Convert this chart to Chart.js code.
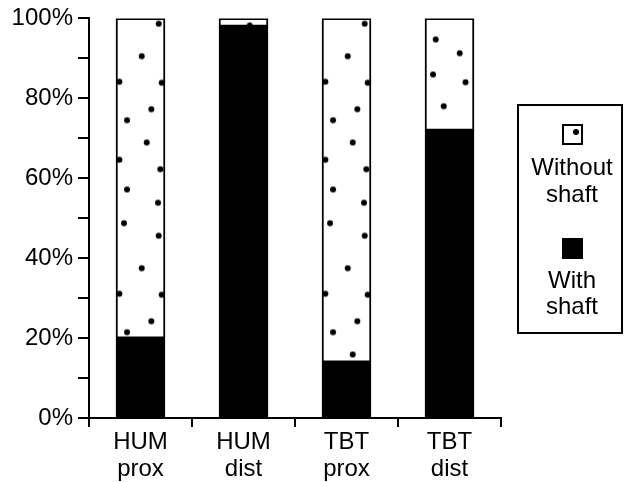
<!DOCTYPE html>
<html>
<head>
<meta charset="utf-8">
<script src="https://cdn.jsdelivr.net/npm/chart.js@4.4.0/dist/chart.umd.min.js"></script>
<style>
  html, body { margin: 0; padding: 0; background: #fff; }
  #wrap { width: 624px; height: 482px; }
</style>
</head>
<body>
<div id="wrap"><canvas id="chart" width="624" height="482"></canvas></div>
<script>
const categories = [['HUM', 'prox'], ['HUM', 'dist'], ['TBT', 'prox'], ['TBT', 'dist']];
const withShaft = [20, 98, 14, 72];
const withoutShaft = [80, 2, 86, 28];
const seriesNames = ['With shaft', 'Without shaft'];
const yLabels = [0, 20, 40, 60, 80, 100];

// dot texture for the white part of each bar, offsets from the bar's top-left
const TILE_W = 60, TILE_H = 212, DOT_R = 3;
const proxDots = [[42.7,5.3],[25.7,37.7],[3.3,63.3],[45.7,64.3],[35.3,90.7],[11,101.7],
  [30.7,124],[3.3,141.3],[44.3,150.7],[11,171],[42,184.3],[8,204.7]];
const barDots = [proxDots, [[30.7,7]], proxDots, [[10.7,21],[34.7,34.7],[8,56],[40.5,63.7],[18.7,87.7]]];

const canvas = document.getElementById('chart');
const ctx = canvas.getContext('2d');

function makePattern(dots) {
  const c = document.createElement('canvas');
  c.width = TILE_W; c.height = TILE_H;
  const g = c.getContext('2d');
  g.fillStyle = '#fff';
  g.fillRect(0, 0, TILE_W, TILE_H);
  g.fillStyle = '#000';
  dots.forEach(([x, y]) => {
    g.beginPath();
    g.arc(x, y, DOT_R, 0, Math.PI * 2);
    g.fill();
  });
  return ctx.createPattern(c, 'repeat');
}
const patterns = barDots.map(makePattern);

// move each pattern so it starts at its own bar
const alignPatterns = {
  id: 'alignPatterns',
  beforeDatasetsDraw(chart) {
    const top = chart.scales.y.getPixelForValue(100);
    chart.getDatasetMeta(1).data.forEach((bar, i) => {
      const left = Math.round(bar.x - bar.width / 2);
      patterns[i].setTransform(new DOMMatrix([1, 0, 0, 1, left, top]));
    });
  }
};

const boxLegend = {
  id: 'boxLegend',
  afterDraw(chart) {
    const g = chart.ctx;
    g.save();
    g.strokeStyle = '#000';
    g.lineWidth = 2;
    g.strokeRect(518, 105, 104, 228);
    const cx = 572;
    g.font = '24px "Liberation Sans", Arial, sans-serif';
    g.fillStyle = '#000';
    g.textAlign = 'center';
    g.textBaseline = 'alphabetic';
    // without shaft
    g.strokeRect(563, 125, 19, 19);
    g.beginPath();
    g.arc(576, 132, DOT_R, 0, Math.PI * 2);
    g.fill();
    ['Without', 'shaft'].forEach((t, k) => g.fillText(t, cx, 175 + k * 26.5));
    // with shaft
    g.fillRect(562, 238, 21, 21);
    ['With', 'shaft'].forEach((t, k) => g.fillText(t, cx, 287.5 + k * 26.5));
    g.restore();
  }
};

const font = { family: '"Liberation Sans", Arial, sans-serif', size: 24, lineHeight: 1.12 };

new Chart(ctx, {
  type: 'bar',
  data: {
    labels: categories,
    datasets: [
      { label: seriesNames[0], data: withShaft, backgroundColor: '#000',
        borderColor: '#000', borderWidth: 2, borderSkipped: false },
      { label: seriesNames[1], data: withoutShaft, backgroundColor: c => patterns[c.dataIndex],
        borderColor: '#000', borderWidth: 2, borderSkipped: false }
    ]
  },
  options: {
    responsive: false,
    animation: false,
    devicePixelRatio: 1,
    layout: { padding: { left: 0, top: 18, right: 123, bottom: 0 } },
    datasets: { bar: { barThickness: 49 } },
    plugins: { legend: { display: false }, tooltip: { enabled: false } },
    scales: {
      x: {
        stacked: true,
        afterFit: s => { s.height = 64; },
        border: { display: true, color: '#000', width: 2 },
        grid: { offset: true, drawOnChartArea: false, drawTicks: true, tickLength: 9,
          color: '#000', lineWidth: 2 },
        ticks: { color: '#000', font: font, padding: 2, maxRotation: 0 }
      },
      y: {
        stacked: true,
        min: 0,
        max: 100,
        afterFit: s => { s.width = 89; },
        border: { display: true, color: '#000', width: 2 },
        grid: { drawOnChartArea: false, drawTicks: true, tickLength: 11, color: '#000', lineWidth: 2 },
        ticks: { stepSize: 10, color: '#000', font: font, padding: 5,
          callback: v => yLabels.includes(v) ? v + '%' : '' }
      }
    }
  },
  plugins: [alignPatterns, boxLegend]
});
</script>
</body>
</html>
